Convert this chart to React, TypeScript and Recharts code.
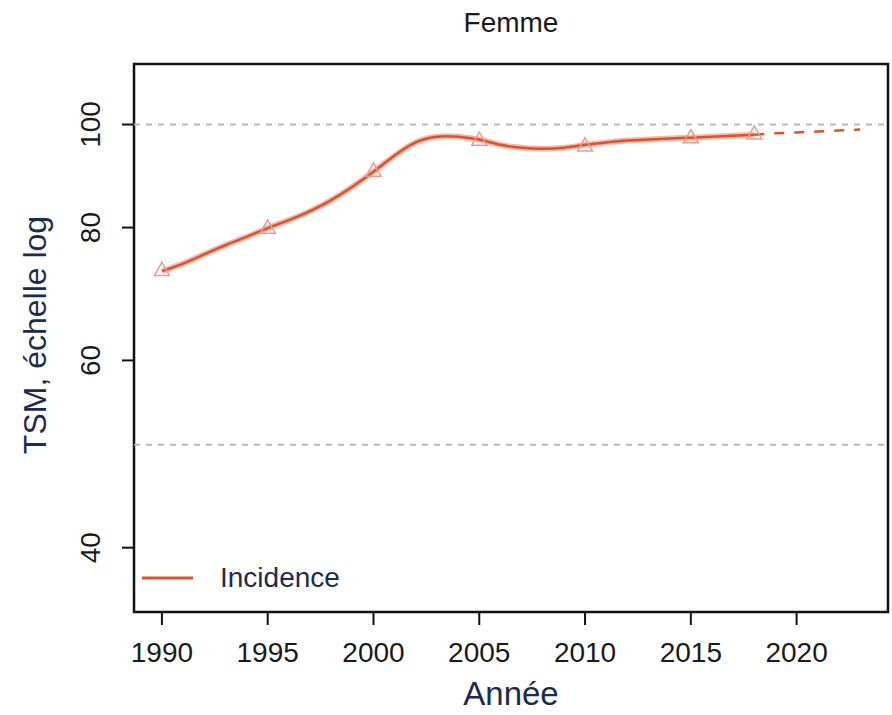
import {
  ComposedChart,
  Line,
  Scatter,
  XAxis,
  YAxis,
  ReferenceLine,
  ReferenceArea,
} from "recharts"

// yearly values of the smoothed incidence curve (TSM)
const years = [
  1990, 1991, 1992, 1993, 1994, 1995, 1996, 1997, 1998, 1999, 2000, 2001, 2002,
  2003, 2004, 2005, 2006, 2007, 2008, 2009, 2010, 2011, 2012, 2013, 2014, 2015,
  2016, 2017, 2018, 2019, 2020, 2021, 2022, 2023,
]
const smooth = [
  72.8, 74.0, 75.5, 77.0, 78.4, 79.9, 81.3, 82.9, 84.9, 87.4, 90.3, 93.5, 96.2,
  97.4, 97.4, 96.8, 95.7, 95.1, 94.9, 95.1, 95.7, 96.2, 96.6, 96.8, 97.0, 97.2,
  97.4, 97.6, 97.8,
]
// projected part (dashed), 2018 -> 2023
const projectionYears = [2018, 2019, 2020, 2021, 2022, 2023]
const projection = [97.8, 98.1, 98.3, 98.5, 98.7, 98.9]

// observed points (triangles)
const obsYears = [1990, 1995, 2000, 2005, 2010, 2015, 2018]
const observed = [73.0, 80.0, 90.5, 96.8, 95.6, 97.3, 98.1]

const xTicks = [1990, 1995, 2000, 2005, 2010, 2015, 2020]
const yTicks = [40, 60, 80, 100]
const gridLines = [50, 100]

const X_DOMAIN = [1988.68, 2024.32]
const Y_DOMAIN = [34.8, 114]

const LINE = "#d9532b"
const HALO = "#f3bcb2"
const TRI = "#ec9a90"
const INK = "#1d2b4c"
const FONT = "'Liberation Sans', Arial, Helvetica, sans-serif"

const rows = years.map((year, i) => {
  const p = projectionYears.indexOf(year)
  return {
    year,
    smooth: i < smooth.length ? smooth[i] : null,
    projection: p >= 0 ? projection[p] : null,
  }
})

const points = obsYears.map((year, i) => ({ year, value: observed[i] }))

const Triangle = (props: any) => {
  const { cx, cy } = props
  if (cx == null || cy == null) return <g />
  const s = 7.5
  return (
    <path
      d={`M${cx},${cy - s} L${cx + s},${cy + s * 0.75} L${cx - s},${cy + s * 0.75} Z`}
      fill="none"
      stroke={TRI}
      strokeWidth={1.5}
    />
  )
}

const XTick = (props: any) => {
  const { x, y, payload } = props
  return (
    <text
      x={x}
      y={y + 35}
      textAnchor="middle"
      fontSize={28}
      fontFamily={FONT}
      fill="#1a1a1a"
    >
      {payload.value}
    </text>
  )
}

const YTick = (props: any) => {
  const { y, payload } = props
  const bx = 100
  return (
    <text
      x={bx}
      y={y}
      transform={`rotate(-90 ${bx} ${y})`}
      textAnchor="middle"
      fontSize={28}
      fontFamily={FONT}
      fill="#1a1a1a"
    >
      {payload.value}
    </text>
  )
}

export default function App() {
  return (
    <div style={{ position: "relative", width: 892, height: 715 }}>
      <style>{`body{margin:0}`}</style>
      <div
        style={{
          position: "absolute",
          left: 134,
          width: 754,
          top: 7,
          textAlign: "center",
          fontFamily: FONT,
          fontSize: 28,
          color: "#1a1a1a",
        }}
      >
        Femme
      </div>
      <ComposedChart
        width={892}
        height={715}
        data={rows}
        margin={{ top: 64, right: 4, bottom: 0, left: 0 }}
      >
        <XAxis
          dataKey="year"
          type="number"
          domain={X_DOMAIN}
          ticks={xTicks}
          allowDataOverflow
          height={103}
          tickSize={13}
          axisLine={false}
          tickLine={{ stroke: "#111", strokeWidth: 2 }}
          tick={<XTick />}
          label={(p: any) => {
            const vb = p.viewBox
            return (
              <text
                x={vb.x + vb.width / 2}
                y={vb.y + 93}
                textAnchor="middle"
                fontSize={33}
                fontFamily={FONT}
                fill={INK}
              >
                Année
              </text>
            )
          }}
        />
        <YAxis
          type="number"
          scale="log"
          domain={Y_DOMAIN}
          ticks={yTicks}
          allowDataOverflow
          width={134}
          tickSize={12}
          axisLine={false}
          tickLine={{ stroke: "#111", strokeWidth: 2 }}
          tick={<YTick />}
          label={(p: any) => {
            const vb = p.viewBox
            const cy = vb.y + vb.height / 2 - 3
            return (
              <text
                x={46}
                y={cy}
                transform={`rotate(-90 46 ${cy})`}
                textAnchor="middle"
                fontSize={32}
                fontFamily={FONT}
                fill={INK}
              >
                TSM, échelle log
              </text>
            )
          }}
        />
        {gridLines.map((v) => (
          <ReferenceLine
            key={v}
            y={v}
            stroke="#b8b8b8"
            strokeWidth={2}
            strokeDasharray="6 6"
          />
        ))}
        <Line
          dataKey="smooth"
          type="natural"
          stroke={HALO}
          strokeWidth={6}
          dot={false}
          activeDot={false}
          isAnimationActive={false}
        />
        <Line
          dataKey="smooth"
          type="natural"
          stroke={LINE}
          strokeWidth={2.5}
          dot={false}
          activeDot={false}
          isAnimationActive={false}
        />
        <Line
          dataKey="projection"
          type="natural"
          stroke={LINE}
          strokeWidth={2.5}
          strokeDasharray="10 10"
          dot={false}
          activeDot={false}
          isAnimationActive={false}
        />
        <Scatter
          data={points}
          dataKey="value"
          shape={<Triangle />}
          isAnimationActive={false}
        />
        <ReferenceArea
          x1={X_DOMAIN[0]}
          x2={X_DOMAIN[1]}
          y1={Y_DOMAIN[0]}
          y2={Y_DOMAIN[1]}
          fill="none"
          stroke="#111"
          strokeWidth={2.5}
          ifOverflow="visible"
        />
      </ComposedChart>
      <div
        style={{
          position: "absolute",
          left: 142,
          top: 560,
          display: "flex",
          alignItems: "center",
          fontFamily: FONT,
          fontSize: 28,
          color: INK,
        }}
      >
        <svg width={78} height={36}>
          <line x1={0} y1={18} x2={51} y2={18} stroke={LINE} strokeWidth={3} />
        </svg>
        <span>Incidence</span>
      </div>
    </div>
  )
}
